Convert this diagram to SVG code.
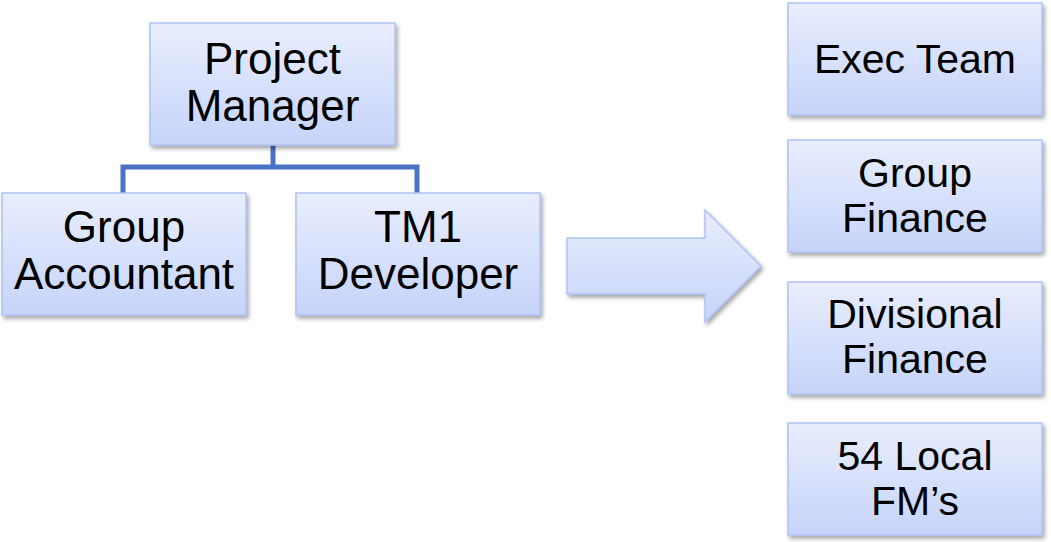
<svg xmlns="http://www.w3.org/2000/svg" width="1051" height="542" viewBox="0 0 1051 542">
<defs>
<linearGradient id="g" x1="0" y1="0" x2="0" y2="1">
<stop offset="0" stop-color="#E9EEFD"/>
<stop offset="1" stop-color="#C6D4FA"/>
</linearGradient>
<filter id="sh" x="-10%" y="-10%" width="125%" height="130%">
<feDropShadow dx="2" dy="3" stdDeviation="2" flood-color="#000" flood-opacity="0.35"/>
</filter>
</defs>
<style>
.box{fill:url(#g);stroke:#AFC2F6;stroke-width:1.5;filter:url(#sh)}
.t{font-family:"Liberation Sans",Arial,sans-serif;font-size:44px;fill:#000;text-anchor:middle}
.r{font-size:41px}
.c{fill:none;stroke:#4A72C6;stroke-width:5}
</style>
<rect width="1051" height="542" fill="#fff"/>
<g id="connectors">
<path class="c" d="M273 145 V167 M123 193 V167 H417 V193"/>
</g>
<g id="project-manager">
<rect class="box" x="150" y="23" width="245" height="122"/>
<text class="t" x="272.5" y="74">Project</text>
<text class="t" x="272.5" y="121">Manager</text>
</g>
<g id="group-accountant">
<rect class="box" x="2" y="193" width="244" height="122"/>
<text class="t" x="124" y="242">Group</text>
<text class="t" x="124" y="289">Accountant</text>
</g>
<g id="tm1-developer">
<rect class="box" x="296" y="193" width="244" height="122"/>
<text class="t" x="418" y="242">TM1</text>
<text class="t" x="418" y="289">Developer</text>
</g>
<g id="arrow">
<path class="box" d="M567 238 H705 V210 L761 266 L705 322 V294 H567 Z"/>
</g>
<g id="exec-team">
<rect class="box" x="788" y="3" width="254" height="112"/>
<text class="t r" x="915" y="73">Exec Team</text>
</g>
<g id="group-finance">
<rect class="box" x="788" y="140" width="254" height="112"/>
<text class="t r" x="915" y="187">Group</text>
<text class="t r" x="915" y="232">Finance</text>
</g>
<g id="divisional-finance">
<rect class="box" x="788" y="282" width="254" height="112"/>
<text class="t r" x="915" y="328">Divisional</text>
<text class="t r" x="915" y="373">Finance</text>
</g>
<g id="local-fms">
<rect class="box" x="788" y="423" width="254" height="112"/>
<text class="t r" x="915" y="470">54 Local</text>
<text class="t r" x="915" y="515">FM’s</text>
</g>
</svg>
